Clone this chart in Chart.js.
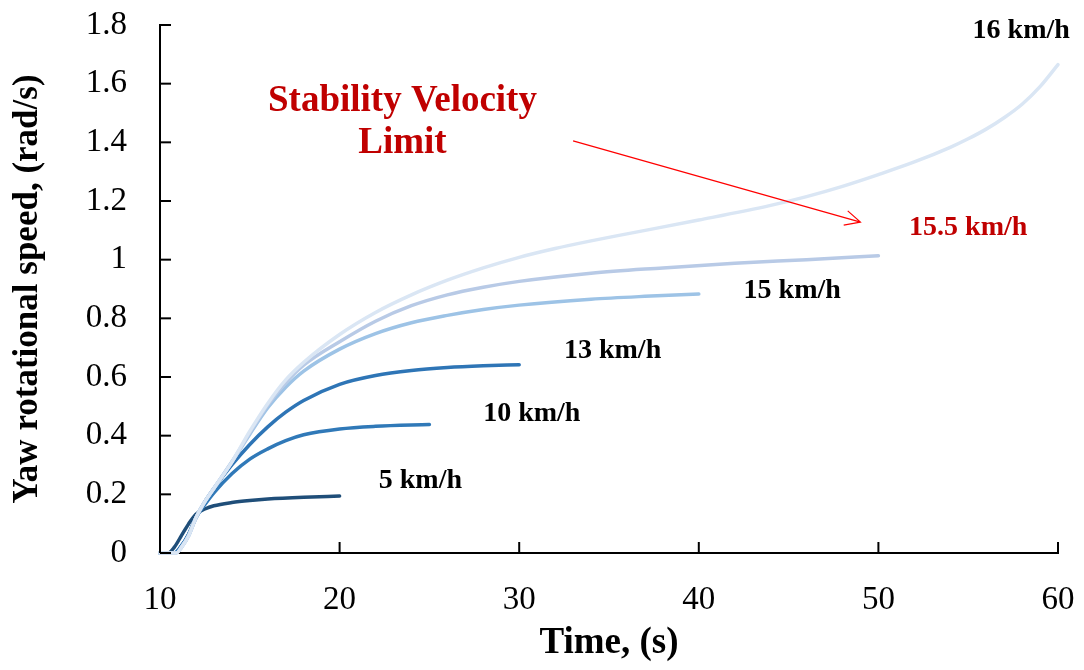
<!DOCTYPE html>
<html>
<head>
<meta charset="utf-8">
<script src="https://cdn.jsdelivr.net/npm/chart.js@4/dist/chart.umd.min.js"></script>
<style>
  html, body { margin: 0; padding: 0; background: #fff; }
  #wrap { width: 1084px; height: 670px; }
</style>
</head>
<body>
<div id="wrap"><canvas id="yawChart"></canvas></div>
<script>
// series data: time (s) and yaw rate (rad/s)
const t5 = [10, 10.45, 10.8, 11.2, 11.6, 12, 12.5, 13, 14, 15, 16, 18, 20];
const v5 = [0, 0, 0.02, 0.06, 0.1, 0.132, 0.15, 0.161, 0.172, 0.179, 0.184, 0.19, 0.194];

const t10 = [10, 10.8, 11.2, 11.6, 12, 12.5, 13, 14, 15, 16, 17, 18, 20, 22, 25];
const v10 = [0, 0, 0.025, 0.065, 0.12, 0.165, 0.205, 0.27, 0.32, 0.355, 0.383, 0.403, 0.423, 0.432, 0.438];

const t13 = [10, 10.8, 11.2, 11.6, 12, 12.5, 13, 14, 15, 16, 17, 18, 20, 22, 24, 26, 28, 30];
const v13 = [0, 0, 0.025, 0.065, 0.12, 0.175, 0.22, 0.3, 0.37, 0.43, 0.48, 0.52, 0.575, 0.605, 0.622, 0.632, 0.638, 0.642];

const t15 = [10, 10.9, 11.2, 11.6, 12, 12.5, 13, 14, 15, 16, 17, 18, 20, 22, 24, 26, 28, 30, 34, 37, 40];
const v15 = [0, 0, 0.02, 0.06, 0.12, 0.175, 0.22, 0.31, 0.405, 0.495, 0.565, 0.62, 0.695, 0.748, 0.785, 0.81, 0.83, 0.845, 0.865, 0.875, 0.883];

const t155 = [10, 10.9, 11.2, 11.6, 12, 12.5, 13, 14, 15, 16, 17, 18, 20, 22, 24, 26, 28, 30, 34, 38, 42, 46, 50];
const v155 = [0, 0, 0.02, 0.06, 0.12, 0.175, 0.22, 0.31, 0.41, 0.505, 0.58, 0.64, 0.72, 0.79, 0.843, 0.88, 0.906, 0.926, 0.954, 0.972, 0.988, 1.0, 1.013];

const t16 = [10, 10.9, 11.2, 11.6, 12, 12.5, 13, 14, 15, 16, 17, 18, 20, 22, 24, 26, 28, 30, 32, 34, 36, 40, 44, 46, 48, 50, 52, 54, 55, 56, 57, 58, 59, 60];
const v16 = [0, 0, 0.02, 0.06, 0.12, 0.175, 0.22, 0.31, 0.415, 0.51, 0.59, 0.65, 0.745, 0.82, 0.88, 0.93, 0.972, 1.008, 1.038, 1.064, 1.088, 1.135, 1.185, 1.215, 1.25, 1.29, 1.333, 1.383, 1.412, 1.445, 1.484, 1.53, 1.59, 1.665];

const xTicks = [10, 20, 30, 40, 50, 60];
const yTicks = [0, 0.2, 0.4, 0.6, 0.8, 1, 1.2, 1.4, 1.6, 1.8];

// text labels placed in data coordinates
const labels = [
  { text: "16 km/h", x: 57.95, y: 1.782, color: "#000", size: 28 },
  { text: "15.5 km/h", x: 55.0, y: 1.108, color: "#c00000", size: 28 },
  { text: "15 km/h", x: 45.2, y: 0.895, color: "#000", size: 28 },
  { text: "13 km/h", x: 35.2, y: 0.69, color: "#000", size: 28 },
  { text: "10 km/h", x: 30.7, y: 0.475, color: "#000", size: 28 },
  { text: "5 km/h", x: 24.5, y: 0.247, color: "#000", size: 28 },
  { text: "Stability Velocity", x: 23.5, y: 1.54, color: "#c00000", size: 37 },
  { text: "Limit", x: 23.5, y: 1.397, color: "#c00000", size: 37 }
];
const arrowFrom = [33.0, 1.405];
const arrowTo = [49.0, 1.128];

const pts = (ts, vs) => ts.map((t, i) => ({ x: t, y: vs[i] }));

const series = [
  { label: "16 km/h", data: pts(t16, v16), color: "#dae6f4" },
  { label: "15.5 km/h", data: pts(t155, v155), color: "#b8cae6" },
  { label: "15 km/h", data: pts(t15, v15), color: "#9dc3e6" },
  { label: "13 km/h", data: pts(t13, v13), color: "#2e75b6" },
  { label: "10 km/h", data: pts(t10, v10), color: "#3079b8" },
  { label: "5 km/h", data: pts(t5, v5), color: "#1f4e79" }
];

const serif = "'Liberation Serif', 'Times New Roman', serif";

const extras = {
  id: "extras",
  afterDatasetsDraw(chart) {
    const { ctx, scales: { x, y }, chartArea } = chart;
    ctx.save();
    // inside tick marks
    ctx.strokeStyle = "#000";
    ctx.lineWidth = 2;
    yTicks.forEach(v => {
      const py = y.getPixelForValue(v);
      ctx.beginPath();
      ctx.moveTo(chartArea.left, py);
      ctx.lineTo(chartArea.left + 11, py);
      ctx.stroke();
    });
    xTicks.forEach(v => {
      const px = x.getPixelForValue(v);
      ctx.beginPath();
      ctx.moveTo(px, chartArea.bottom);
      ctx.lineTo(px, chartArea.bottom - 11);
      ctx.stroke();
    });
    // labels
    ctx.textAlign = "center";
    ctx.textBaseline = "middle";
    labels.forEach(l => {
      ctx.fillStyle = l.color;
      ctx.font = "bold " + l.size + "px " + serif;
      ctx.fillText(l.text, x.getPixelForValue(l.x), y.getPixelForValue(l.y));
    });
    // arrow
    const x1 = x.getPixelForValue(arrowFrom[0]), y1 = y.getPixelForValue(arrowFrom[1]);
    const x2 = x.getPixelForValue(arrowTo[0]), y2 = y.getPixelForValue(arrowTo[1]);
    const a = Math.atan2(y2 - y1, x2 - x1);
    ctx.strokeStyle = "#ff0000";
    ctx.lineWidth = 1.2;
    ctx.beginPath();
    ctx.moveTo(x1, y1);
    ctx.lineTo(x2, y2);
    ctx.moveTo(x2 - 17 * Math.cos(a - 0.45), y2 - 17 * Math.sin(a - 0.45));
    ctx.lineTo(x2, y2);
    ctx.lineTo(x2 - 17 * Math.cos(a + 0.45), y2 - 17 * Math.sin(a + 0.45));
    ctx.stroke();
    ctx.restore();
  }
};

const noPad = s => { s.paddingTop = 0; s.paddingBottom = 0; s.paddingLeft = 0; s.paddingRight = 0; };

new Chart(document.getElementById("yawChart"), {
  type: "line",
  data: {
    datasets: series.map(s => ({
      label: s.label,
      data: s.data,
      borderColor: s.color,
      borderWidth: 3.5,
      borderCapStyle: "round",
      pointRadius: 0,
      clip: 6,
      cubicInterpolationMode: "monotone"
    }))
  },
  options: {
    responsive: true,
    maintainAspectRatio: false,
    animation: false,
    layout: { padding: { top: 25, right: 26, left: 0, bottom: 0 } },
    plugins: { legend: { display: false }, tooltip: { enabled: false } },
    scales: {
      x: {
        type: "linear",
        min: 10,
        max: 60,
        afterBuildTicks: s => { s.ticks = xTicks.map(v => ({ value: v })); },
        afterFit: s => { s.height = 117; noPad(s); },
        grid: { display: false, drawTicks: false },
        border: { color: "#000", width: 2 },
        ticks: { color: "#000", padding: 28, font: { family: serif, size: 33 }, callback: v => String(v) },
        title: {
          display: true,
          text: "Time, (s)",
          color: "#000",
          padding: { top: 0, bottom: 4 },
          font: { family: serif, size: 37, weight: "bold" }
        }
      },
      y: {
        min: 0,
        max: 1.8,
        afterBuildTicks: s => { s.ticks = yTicks.map(v => ({ value: v })); },
        afterFit: s => { s.width = 160; noPad(s); },
        grid: { display: false, drawTicks: false },
        border: { color: "#000", width: 2 },
        ticks: { color: "#000", padding: 33, font: { family: serif, size: 33 }, callback: v => String(v) },
        title: {
          display: true,
          text: "Yaw rotational speed, (rad/s)",
          color: "#000",
          padding: { top: 7, bottom: 0 },
          font: { family: serif, size: 35, weight: "bold" }
        }
      }
    }
  },
  plugins: [extras]
});
</script>
</body>
</html>
